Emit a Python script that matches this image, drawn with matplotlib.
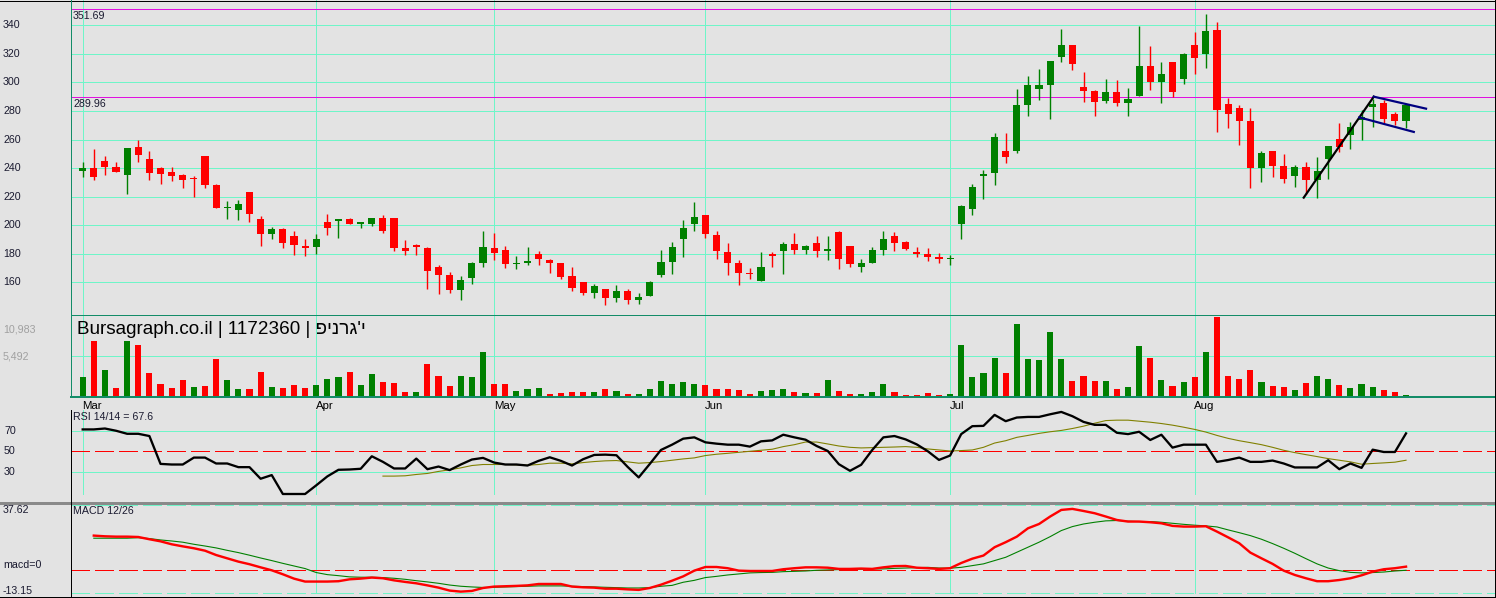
import matplotlib
matplotlib.use("Agg")
import matplotlib.pyplot as plt
import matplotlib.transforms as mtransforms
from matplotlib.lines import Line2D
import numpy as np

plt.rcParams['font.family'] = ['Liberation Sans', 'DejaVu Sans']
plt.rcParams['lines.scale_dashes'] = False

# ---------------- data ----------------
opens = [238.2, 239.8, 245.0, 240.5, 235.4, 254.8, 246.4, 240.0, 237.3, 235.2,
         233.0, 248.5, 228.2, 212.3, 210.9, 223.3, 204.4, 194.0, 197.3, 192.4,
         185.0, 185.0, 202.2, 203.2, 204.4, 201.1, 201.1, 205.0, 205.0, 184.1,
         186.2, 184.1, 170.8, 165.2, 154.9, 163.3, 173.8, 184.1, 182.7, 173.2,
         173.8, 179.9, 175.7, 173.6, 164.5, 160.0, 152.8, 155.4, 149.3, 154.0,
         147.9, 150.7, 165.4, 174.5, 190.0, 200.5, 207.2, 193.2, 181.3, 173.6,
         166.6, 161.2, 179.2, 181.6, 186.9, 182.3, 187.6, 181.6, 195.4, 185.5,
         170.9, 173.8, 182.7, 192.5, 188.3, 181.3, 179.9, 177.7, 176.0, 200.6,
         211.0, 234.1, 236.2, 252.1, 252.3, 284.4, 295.6, 298.4, 317.8, 326.2,
         296.8, 294.0, 287.2, 293.3, 285.8, 290.7, 311.5, 300.5, 314.3, 302.6,
         326.2, 320.1, 336.7, 284.9, 282.1, 273.0, 240.3, 251.9, 241.4, 234.7,
         240.7, 231.8, 246.4, 260.3, 263.1, 273.7, 283.0, 285.5, 278.1, 273.2]
highs = [244.0, 253.4, 248.5, 244.3, 254.0, 259.7, 252.0, 240.5, 240.5, 235.5,
         234.5, 248.8, 228.5, 217.0, 217.7, 223.5, 206.2, 198.6, 198.0, 196.2,
         190.3, 193.8, 208.1, 204.6, 205.0, 202.4, 205.2, 207.2, 205.2, 189.7,
         187.0, 184.5, 172.2, 167.3, 164.5, 174.3, 196.0, 194.6, 185.5, 178.5,
         184.8, 182.0, 176.0, 173.8, 171.0, 160.2, 158.7, 155.6, 158.0, 155.4,
         152.6, 160.8, 182.7, 188.3, 203.7, 216.3, 207.4, 196.0, 187.6, 175.3,
         169.9, 181.3, 181.3, 187.9, 194.6, 186.0, 192.5, 192.5, 195.6, 185.7,
         176.5, 184.8, 195.9, 195.4, 189.0, 184.8, 184.1, 180.5, 178.8, 213.8,
         228.9, 238.8, 264.6, 264.6, 295.4, 304.5, 309.4, 315.2, 337.4, 326.4,
         307.3, 294.7, 302.4, 301.7, 296.1, 339.5, 325.5, 314.3, 314.5, 320.5,
         335.3, 347.9, 342.3, 289.3, 284.2, 282.1, 251.9, 252.1, 249.9, 242.3,
         244.2, 247.9, 255.7, 271.8, 272.2, 280.7, 288.6, 287.9, 279.5, 284.4]
lows = [234.0, 231.7, 235.4, 237.0, 222.0, 244.5, 231.7, 229.0, 231.0, 226.3,
        220.0, 226.3, 212.0, 204.4, 203.6, 202.5, 185.4, 190.0, 184.3, 179.0,
        178.5, 179.8, 193.2, 191.3, 201.0, 198.3, 199.7, 194.5, 182.0, 178.8,
        178.8, 155.0, 152.1, 152.8, 147.9, 159.1, 171.0, 175.3, 170.3, 169.0,
        172.2, 172.2, 166.4, 162.0, 154.2, 151.2, 149.3, 144.4, 146.5, 145.1,
        145.1, 150.5, 164.0, 166.1, 178.0, 195.6, 190.7, 176.0, 165.4, 158.4,
        162.6, 161.0, 171.0, 166.1, 180.1, 180.0, 177.7, 175.6, 169.0, 170.4,
        166.9, 173.6, 179.3, 182.0, 182.5, 177.7, 175.1, 173.8, 171.8, 190.1,
        206.8, 218.3, 228.4, 243.2, 250.9, 276.7, 288.0, 274.6, 314.5, 308.9,
        286.5, 276.7, 285.8, 283.7, 276.7, 290.5, 294.7, 285.8, 290.0, 299.0,
        306.1, 310.3, 265.5, 268.3, 256.4, 226.3, 230.4, 234.0, 229.7, 226.9,
        221.6, 219.3, 232.5, 251.5, 253.6, 259.9, 268.7, 271.3, 270.2, 267.8]
closes = [239.8, 234.0, 241.0, 237.3, 254.0, 249.4, 236.8, 236.0, 234.7, 231.7,
          232.0, 228.4, 212.3, 212.6, 214.6, 208.0, 194.0, 197.3, 187.8, 186.4,
          184.5, 190.3, 198.0, 204.4, 201.1, 202.2, 205.0, 196.2, 184.0, 181.6,
          184.4, 168.2, 165.4, 154.9, 161.7, 173.6, 184.8, 180.2, 173.1, 173.6,
          175.0, 176.0, 173.8, 164.0, 156.3, 152.8, 157.5, 149.3, 154.0, 147.9,
          149.8, 160.3, 174.3, 184.8, 198.1, 205.8, 193.5, 181.6, 173.8, 166.8,
          166.2, 170.8, 179.0, 186.9, 182.3, 185.5, 181.6, 183.5, 176.0, 173.1,
          173.6, 182.7, 190.4, 187.6, 183.6, 180.1, 177.9, 176.5, 177.2, 213.6,
          226.9, 236.0, 261.9, 247.9, 284.2, 298.2, 298.4, 315.0, 326.2, 313.1,
          294.2, 286.5, 293.3, 285.8, 288.4, 311.5, 300.5, 305.9, 293.5, 319.9,
          317.3, 336.0, 280.9, 278.1, 273.2, 240.3, 250.6, 241.6, 232.5, 240.7,
          231.8, 237.9, 255.5, 255.0, 268.7, 276.0, 285.1, 274.6, 273.2, 284.2]
volume = [2679, 7582, 3632, 1180, 7582, 7037, 3223, 1725, 1180, 2270,
          1317, 1453, 5130, 2270, 1044, 1044, 3360, 1317, 1180, 1589,
          1180, 1589, 2406, 2679, 3360, 1589, 3087, 1998, 1861, 636,
          636, 4449, 2815, 1453, 2815, 2679, 6084, 1725, 1725, 772,
          1044, 1180, 363, 499, 636, 636, 636, 1044, 772, 363,
          363, 1044, 2134, 1725, 1998, 1725, 1589, 1044, 1044, 908,
          363, 772, 908, 1044, 636, 499, 499, 2270, 772, 363,
          363, 636, 1725, 636, 227, 227, 499, 227, 363, 7037,
          2679, 3223, 5266, 3223, 9897, 5130, 4994, 8808, 5130, 2134,
          2815, 2134, 2134, 1044, 1317, 6901, 5266, 2270, 1453, 1998,
          2679, 6084, 10851, 2815, 2406, 3632, 1998, 1453, 1317, 908,
          1861, 2815, 2406, 1589, 1180, 1725, 1317, 908, 636, 227]
rsi = [71.5, 71.5, 72.4, 70.2, 67.2, 67.2, 65.0, 37.6, 37.0, 37.0,
       43.8, 43.8, 38.0, 38.0, 34.4, 34.4, 23.0, 26.6, 8.0, 8.0,
       8.0, 16.5, 25.3, 31.8, 32.1, 32.8, 45.1, 39.6, 33.1, 33.1,
       42.8, 32.4, 35.0, 31.5, 37.0, 41.9, 43.5, 38.9, 37.0, 37.0,
       36.0, 40.6, 44.1, 40.6, 36.0, 42.2, 46.4, 46.7, 46.1, 34.7,
       24.3, 37.6, 51.3, 56.5, 62.4, 63.7, 58.8, 57.5, 56.5, 56.5,
       54.6, 59.8, 60.7, 66.3, 63.7, 61.4, 55.2, 50.3, 37.3, 30.8,
       36.7, 51.3, 63.7, 65.0, 61.7, 56.8, 50.0, 41.5, 45.8, 66.9,
       74.7, 75.0, 85.8, 79.6, 83.2, 83.8, 83.8, 86.4, 88.7, 84.5,
       78.9, 76.0, 76.0, 68.2, 66.9, 69.2, 61.1, 66.3, 53.6, 56.5,
       56.5, 56.5, 39.6, 41.4, 43.8, 39.6, 39.6, 40.9, 38.0, 34.1,
       34.1, 34.1, 41.2, 32.4, 38.0, 33.7, 51.6, 49.3, 49.3, 67.6]
rsi_sig_start = 27
rsi_sig = [25.6, 25.6, 25.9, 27.2, 28.2, 30.2, 31.8, 33.7, 36.0, 37.0,
           37.0, 37.0, 36.7, 36.3, 37.0, 38.3, 38.3, 37.6, 38.9, 39.9,
           40.6, 40.9, 39.6, 38.3, 38.9, 39.9, 41.2, 42.5, 43.5, 45.8,
           47.1, 48.0, 49.0, 50.0, 51.0, 52.0, 54.6, 56.5, 59.1, 59.1,
           57.2, 55.2, 53.9, 53.3, 53.6, 53.9, 54.2, 54.6, 53.9, 52.3,
           51.3, 50.3, 50.7, 51.3, 53.9, 58.1, 60.4, 63.7, 65.6, 67.6,
           69.2, 70.5, 72.4, 74.7, 77.6, 80.2, 80.6, 80.6, 79.6, 78.6,
           77.3, 75.7, 73.7, 71.5, 68.9, 65.6, 62.7, 60.4, 58.5, 56.5,
           53.9, 51.0, 48.7, 46.7, 44.8, 42.8, 41.2, 39.6, 37.3, 38.0,
           38.6, 39.3, 41.2]
macd_start = 1
macd = [20.0, 19.6, 19.4, 19.4, 19.2, 17.9, 16.7, 15.0, 13.8, 12.7,
        11.3, 8.8, 6.9, 5.0, 3.5, 1.7, 0.0, -2.3, -4.8, -6.5,
        -6.5, -6.5, -6.3, -5.2, -4.8, -4.2, -4.6, -5.8, -6.7, -7.5,
        -8.7, -10.0, -11.7, -12.3, -11.9, -10.2, -9.4, -9.2, -9.0, -8.7,
        -7.9, -7.9, -7.9, -9.4, -9.8, -10.0, -10.6, -10.6, -11.0, -11.3,
        -10.2, -8.3, -6.0, -3.5, -0.2, 1.9, 1.9, 1.2, -0.2, -0.4,
        -0.4, -0.4, 0.6, 1.2, 1.7, 1.7, 1.5, 0.8, 0.8, 1.0,
        0.8, 1.7, 2.4, 2.5, 1.5, 1.2, 0.8, 1.2, 4.2, 6.7,
        8.5, 13.3, 16.2, 19.4, 24.2, 26.7, 31.0, 34.8, 35.4, 34.2,
        32.9, 31.0, 29.0, 28.1, 28.1, 27.7, 27.1, 25.6, 25.2, 25.2,
        25.4, 22.3, 19.0, 15.6, 10.2, 6.9, 3.7, -0.2, -2.7, -4.6,
        -6.3, -6.3, -5.6, -4.6, -2.9, -0.8, 0.6, 1.2, 2.1]
macd_sig = [18.5, 18.5, 18.5, 18.5, 18.8, 18.3, 17.5, 16.9, 16.2, 15.0,
            14.0, 12.9, 11.5, 10.2, 8.7, 7.1, 5.6, 4.0, 2.5, 1.0,
            -1.3, -2.5, -3.1, -3.8, -4.0, -4.0, -4.2, -4.6, -5.2, -6.0,
            -6.7, -7.5, -8.5, -9.2, -9.6, -9.9, -9.8, -9.6, -9.4, -9.2,
            -9.0, -9.0, -9.0, -9.2, -9.4, -9.6, -9.8, -10.0, -10.2, -10.2,
            -10.0, -9.2, -8.7, -6.9, -5.8, -4.2, -3.5, -2.7, -2.1, -1.5,
            -1.3, -1.2, -0.8, -0.6, -0.4, 0.0, 0.2, 0.4, 0.6, 0.6,
            0.8, 0.8, 1.1, 1.3, 1.5, 1.7, 1.3, 1.2, 1.7, 2.7,
            3.7, 5.6, 7.5, 10.4, 13.3, 16.2, 19.4, 22.9, 25.2, 26.7,
            27.7, 28.5, 28.7, 28.3, 28.1, 28.1, 27.7, 27.1, 26.5, 26.0,
            25.6, 25.0, 23.3, 21.7, 20.0, 17.9, 15.4, 12.7, 9.8, 6.7,
            3.7, 1.3, -0.2, -1.2, -1.5, -1.3, -1.0, -0.4, 0.0]
month_idx = [0, 21, 37, 56, 78, 100]
month_names = ['Mar', 'Apr', 'May', 'Jun', 'Jul', 'Aug']
price_ticks = [160, 180, 200, 220, 240, 260, 280, 300, 320, 340]
levels = [351.69, 289.96]
vol_ticks = [5492, 10983]
rsi_ticks = [70, 50, 30]
macd_max, macd_min = 37.62, -13.15
trend_x = [109.8, 116.1]
trend_y = [219.3, 290.0]
flag_up_x = [116.1, 120.8]
flag_up_y = [290.0, 281.6]
flag_dn_x = [114.8, 119.7]
flag_dn_y = [275.5, 265.3]
hebrew_name = "\u05e4\u05d9\u05e0\u05e8\u05d2'\u05d9"
title_text = "Bursagraph.co.il | 1172360 | " + hebrew_name

# ---------------- style ----------------
BG = '#e3e3e3'
GRID = '#6ff5c8'
TEAL = '#138c68'
GREEN = '#008000'
RED = '#ff0000'
MAG = '#e010e0'
TXT = '#1a1a30'
W, H = 1496, 598
PX = 72.0 / 100.0  # points per pixel
XMIN, XMAX = -1.05, 127.0
DASH = (0, (13, 4.3))
G1 = 1.0 * PX  # one-pixel line

fig = plt.figure(figsize=(W / 100, H / 100), dpi=100, facecolor=BG)


def add_ax(top, bottom, ylim):
    ax = fig.add_axes([71 / W, 1 - bottom / H, (1495 - 71) / W, (bottom - top) / H])
    ax.set_facecolor(BG)
    ax.set_xlim(XMIN, XMAX)
    ax.set_ylim(*ylim)
    for s in ax.spines.values():
        s.set_visible(False)
    ax.set_xticks([])
    ax.set_yticks([])
    return ax


ax_p = add_ax(0, 315, (137.1, 357.7))
ax_v = add_ax(315, 397, (-41, 11103))
ax_r = add_ax(398, 502, (0.13, 102.4))
ax_m = add_ax(503, 597, (-15.4, 38.8))

x = np.arange(len(closes))
o = np.array(opens); h = np.array(highs); l = np.array(lows); c = np.array(closes)
up = c >= o
ccol = np.where(up, GREEN, RED)

# ---------------- price panel ----------------
for p in price_ticks:
    ax_p.axhline(p, color=GRID, lw=G1, zorder=1, antialiased=False)
for mi in month_idx:
    ax_p.axvline(mi, color=GRID, lw=G1, zorder=1, antialiased=False)
for lv in levels:
    ax_p.axhline(lv, color=MAG, lw=G1, zorder=2, antialiased=False)

ax_p.vlines(x, l, h, colors=ccol, lw=1.4 * PX, zorder=3)
body_lo = np.minimum(o, c)
body_h = np.maximum(np.abs(c - o), 0.9)
body_lo = np.where(np.abs(c - o) < 0.9, (o + c) / 2 - 0.45, body_lo)
ax_p.bar(x, body_h, bottom=body_lo, width=0.64, color=ccol, lw=0, zorder=4)

ax_p.plot(trend_x, trend_y, color='black', lw=2.2 * PX, zorder=5)
ax_p.plot(flag_up_x, flag_up_y, color='#000080', lw=2.2 * PX, zorder=5)
ax_p.plot(flag_dn_x, flag_dn_y, color='#000080', lw=2.2 * PX, zorder=5)

tp = mtransforms.blended_transform_factory(fig.transFigure, ax_p.transData)
for p in price_ticks:
    fig.text(3 / W, p, str(p), transform=tp, fontsize=7.7, color=TXT,
             ha='left', va='center')
for lv in levels:
    t = tp + mtransforms.ScaledTranslation(0, -2 / 100, fig.dpi_scale_trans)
    fig.text(73 / W, lv, f"{lv:.2f}", transform=t, fontsize=7.7, color=TXT,
             ha='left', va='top')

# ---------------- volume panel ----------------
vcol = [GREEN] + [GREEN if c[i] >= c[i - 1] else RED for i in range(1, len(c))]
for mi in month_idx:
    ax_v.axvline(mi, color=GRID, lw=G1, zorder=1, antialiased=False)
ax_v.axhline(vol_ticks[0], color=GRID, lw=G1, zorder=1, antialiased=False)
ax_v.bar(x, volume, width=0.55, color=vcol, lw=0, zorder=3)
fig.text(77 / W, 1 - 330 / H, title_text, fontsize=13.6, color='black',
         ha='left', va='center', zorder=6)
tv = mtransforms.blended_transform_factory(fig.transFigure, ax_v.transData)
fig.text(3 / W, vol_ticks[0], f"{vol_ticks[0]:,}", transform=tv, fontsize=7.7,
         color='#a0a0a0', ha='left', va='center')
tv2 = tv + mtransforms.ScaledTranslation(0, -9 / 100, fig.dpi_scale_trans)
fig.text(3 / W, vol_ticks[1], f"{vol_ticks[1]:,}", transform=tv2, fontsize=7.7,
         color='#a0a0a0', ha='left', va='top')

# ---------------- RSI panel ----------------
for mi in month_idx:
    ax_r.axvline(mi, ymin=0.077, ymax=0.885, color=GRID, lw=G1, zorder=1,
                 antialiased=False)
ax_r.axhline(70, color=GRID, lw=G1, zorder=1, antialiased=False)
ax_r.axhline(30, color=GRID, lw=G1, zorder=1, antialiased=False)
ax_r.axhline(50, color=RED, lw=G1, ls=DASH, zorder=2, antialiased=False)
ax_r.plot(np.arange(rsi_sig_start, rsi_sig_start + len(rsi_sig)), rsi_sig,
          color='#808000', lw=1.1 * PX, zorder=3)
ax_r.plot(x, rsi, color='black', lw=2.3 * PX, zorder=4)
tr = mtransforms.blended_transform_factory(fig.transFigure, ax_r.transData)
for rv in rsi_ticks:
    fig.text(4 / W, rv, str(rv), transform=tr, fontsize=7.7, color=TXT,
             ha='left', va='center')
fig.text(73 / W, 1 - 416.5 / H, f"RSI 14/14 = {rsi[-1]:.1f}", fontsize=7.7,
         color=TXT, ha='left', va='center')
tm_lab = mtransforms.blended_transform_factory(ax_r.transData, fig.transFigure)
for mi, nm in zip(month_idx, month_names):
    fig.text(mi - 0.03, 1 - 406 / H, nm, transform=tm_lab, fontsize=8.2,
             color='black', ha='left', va='center')

# ---------------- MACD panel ----------------
for mi in month_idx[1:]:
    ax_m.axvline(mi, ymin=0.039, ymax=0.971, color=GRID, lw=G1, zorder=1,
                 antialiased=False)
ax_m.axhline(macd_max, color=GRID, lw=G1, ls=DASH, zorder=1, antialiased=False)
ax_m.axhline(macd_min, color=GRID, lw=G1, ls=DASH, zorder=1, antialiased=False)
ax_m.axhline(0, color=RED, lw=G1, ls=DASH, zorder=2, antialiased=False)
xm = np.arange(macd_start, macd_start + len(macd))
ax_m.plot(xm, macd_sig, color=GREEN, lw=1.1 * PX, zorder=3)
ax_m.plot(xm, macd, color=RED, lw=2.4 * PX, zorder=4)
tmm = mtransforms.blended_transform_factory(fig.transFigure, ax_m.transData)
fig.text(3 / W, macd_max, f"{macd_max:.2f}", transform=tmm, fontsize=7.7,
         color=TXT, ha='left', va='top')
fig.text(3 / W, 0, "macd=0", transform=tmm, fontsize=7.7, color=TXT,
         ha='left', va='bottom')
fig.text(3 / W, macd_min + 1.3, f"{macd_min:.2f}", transform=tmm, fontsize=7.7,
         color=TXT, ha='left', va='center')
fig.text(73 / W, 1 - 511 / H, "MACD 12/26", fontsize=7.7, color=TXT,
         ha='left', va='center')

# ---------------- frame lines ----------------
def hline(y, x0, x1, color, npx):
    fig.add_artist(Line2D([x0 / W, x1 / W], [1 - y / H, 1 - y / H],
                          transform=fig.transFigure, color=color, lw=npx * PX,
                          antialiased=False))


def vline(xp, y0, y1, color, npx):
    fig.add_artist(Line2D([xp / W, xp / W], [1 - y0 / H, 1 - y1 / H],
                          transform=fig.transFigure, color=color, lw=npx * PX,
                          antialiased=False))


hline(0.5, 0, W, 'black', 1)
hline(315.3, 71, 1495, TEAL, 1)
hline(396.6, 71, 1495, TEAL, 2)
hline(502.5, 0, W, '#8a8a8a', 3)
hline(597.3, 0, W, 'black', 1)
vline(71.3, 0, 397, TEAL, 1)
vline(71.3, 410, 597, 'black', 1)
vline(1495.3, 0, 598, 'black', 1)

fig.savefig('out.png', dpi=100, facecolor=BG)
